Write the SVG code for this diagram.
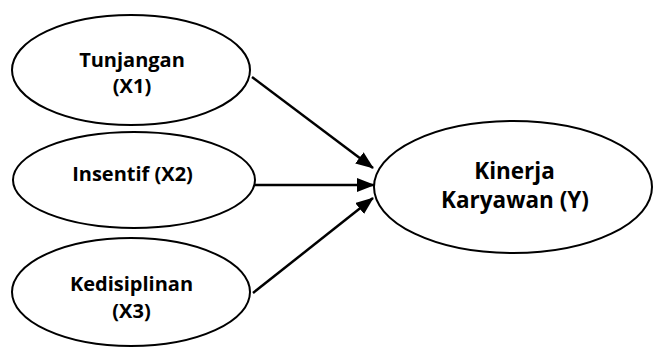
<svg xmlns="http://www.w3.org/2000/svg" width="654" height="347" viewBox="0 0 654 347">
<defs>
<marker id="ah" markerUnits="userSpaceOnUse" markerWidth="18" markerHeight="14" refX="17" refY="7" orient="auto">
<path d="M0,0 L18,7 L0,14 Z" fill="#000"/>
</marker>
<style>
.n{fill:#fff;stroke:#000;stroke-width:2}
.t{font-family:"Open Sans","Noto Sans",sans-serif;font-weight:bold;font-size:20px;fill:#000;text-anchor:middle}
.ty{font-size:22.5px}
.c{stroke:#000;stroke-width:2.5;fill:none;marker-end:url(#ah)}
</style>
</defs>
<rect width="654" height="347" fill="#fff"/>
<g id="connectors">
<line class="c" x1="252" y1="77" x2="373" y2="168"/>
<line class="c" x1="255" y1="185" x2="374" y2="185"/>
<line class="c" x1="253" y1="293" x2="373" y2="198"/>
</g>
<g id="x1">
<ellipse class="n" cx="131" cy="70" rx="119" ry="55"/>
<text class="t" x="132" y="67">Tunjangan</text>
<text class="t" x="132" y="93">(X1)</text>
</g>
<g id="x2">
<ellipse class="n" cx="134" cy="180" rx="121" ry="48"/>
<text class="t" x="132.5" y="181">Insentif (X2)</text>
</g>
<g id="x3">
<ellipse class="n" cx="131" cy="292" rx="119" ry="54"/>
<text class="t" x="131.5" y="291">Kedisiplinan</text>
<text class="t" x="131.5" y="318">(X3)</text>
</g>
<g id="y">
<ellipse class="n" cx="513" cy="187" rx="139" ry="66"/>
<text class="t ty" x="514.5" y="179">Kinerja</text>
<text class="t ty" x="515" y="208">Karyawan (Y)</text>
</g>
</svg>
